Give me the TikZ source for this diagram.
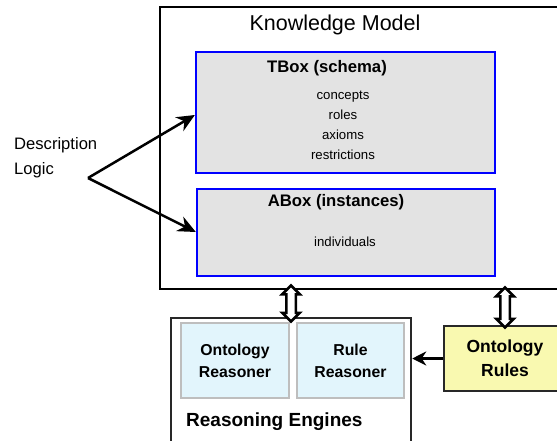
\documentclass[tikz,border=0pt]{standalone}
\usepackage{fontspec}
\setmainfont{Liberation Sans}
\usetikzlibrary{shapes.arrows, arrows.meta, positioning, calc}
\definecolor{boxgray}{RGB}{227,227,227}
\definecolor{engblue}{RGB}{226,245,252}
\definecolor{enggray}{RGB}{190,190,190}
\definecolor{ruleyellow}{RGB}{249,249,176}
\definecolor{darkline}{RGB}{40,40,40}
\tikzset{
    frame/.style={draw=black, line width=2.5pt, minimum width=405pt, minimum height=282pt, inner sep=0pt},
    boxbox/.style={draw=blue, line width=2.3pt, fill=boxgray, inner sep=0pt},
    engine/.style={draw=darkline, line width=2.5pt, fill=white, minimum width=240pt, minimum height=142pt, inner sep=0pt},
    reasoner/.style={draw=enggray, line width=2.3pt, fill=engblue, align=center, minimum height=75pt, inner sep=0pt, font=\bfseries\fontsize{15.8}{22}\selectfont},
    rulebox/.style={draw=darkline, line width=2.5pt, fill=ruleyellow, align=center, minimum width=122pt, minimum height=65pt, inner sep=0pt, font=\bfseries\fontsize{17.5}{24}\selectfont},
    title/.style={inner sep=0pt, font=\bfseries\fontsize{16.7}{20}\selectfont},
    item/.style={inner sep=0pt, align=center, font=\fontsize{13.2}{20}\selectfont},
    arrow/.style={-{Stealth[length=18pt,width=16pt]}, line width=2.5pt},
    dblarrow/.style={shape=double arrow, draw=black, line width=2.5pt, fill=white, rotate=90, inner xsep=0pt, inner ysep=3.5pt, minimum width=0pt, double arrow head extend=4pt}
}

\begin{document}
\begin{tikzpicture}[x=1pt, y=-1pt]
    \useasboundingbox (0,0) rectangle (557,440);
    \clip (0,0) rectangle (557,440);
    \fill[white] (0,0) rectangle (557,440);

    \node [frame] (km) at (362.5,148) {};
    \node [inner sep=0pt, font=\fontsize{21.5}{24}\selectfont] (kmtitle) at (335,25) {Knowledge Model};

    \node [boxbox, minimum width=299pt, minimum height=121pt] (tbox) at (345.5,112.5) {};
    \node [title] (tboxtitle) at (327,68) {TBox (schema)};
    \node [item] (tboxitems) at (343,125.5) {concepts\\roles\\axioms\\restrictions};

    \node [boxbox, minimum width=298pt, minimum height=87pt] (abox) at (346,232.5) {};
    \node [title] (aboxtitle) at (336,202) {ABox (instances)};
    \node [item] (aboxitems) at (345,242) {individuals};

    \node [inner sep=0pt, align=left, font=\fontsize{16.6}{25}\selectfont, anchor=west] (desc) at (14,157.5) {Description\\Logic};
    \coordinate (dl) at (88,178);
    \draw [arrow] (dl) -- (tbox.west |- 0,115);
    \draw [arrow] (dl) -- (abox.west |- 0,232);

    \node [engine] (engines) at (291,389) {};
    \node [reasoner, minimum width=108pt] (ontreas) at (235,360.5) {Ontology\\Reasoner};
    \node [reasoner, minimum width=107pt] (rulereas) at (350.5,360.5) {Rule\\Reasoner};
    \node [inner sep=0pt, anchor=west, font=\bfseries\fontsize{19}{22}\selectfont] (englabel) at (186,422) {Reasoning Engines};

    \node [rulebox] (rules) at (505,358.5) {Ontology\\Rules};
    \draw [arrow, -{Stealth[length=14pt,width=14pt]}] (rules.west) -- (engines.east |- rules.west);

    \node [dblarrow, minimum height=36pt] (kmeng) at ($(engines.north |- km.south)!.5!(engines.north)$) {};
    \node [dblarrow, minimum height=40pt] (kmrules) at ($(rules.north |- km.south)!.5!(rules.north)$) {};
\end{tikzpicture}
\end{document}
